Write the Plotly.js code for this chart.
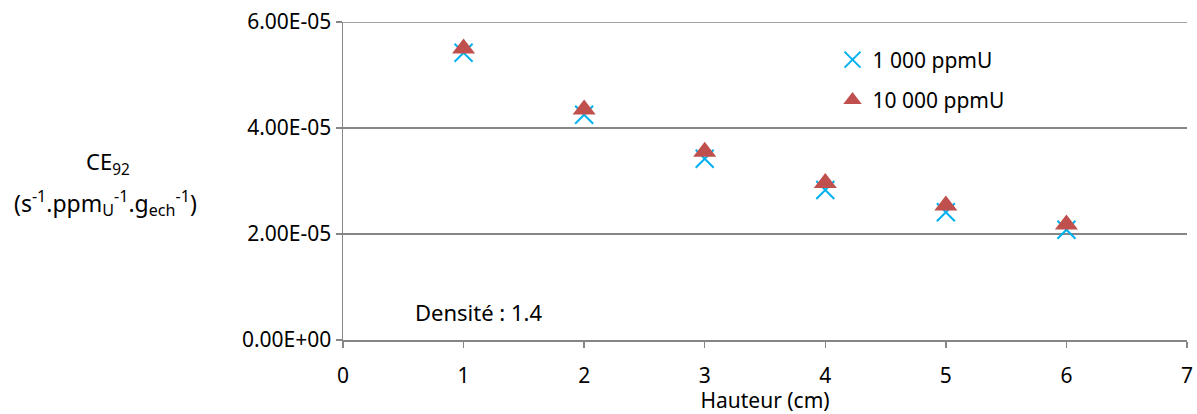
<!DOCTYPE html>
<html>
<head>
<meta charset="utf-8">
<script src="https://cdn.plot.ly/plotly-3.0.1.min.js"></script>
<style>html,body{margin:0;padding:0;background:#fff;}#chart{width:1197px;height:414px;}</style>
</head>
<body>
<div id="chart"></div>
<script>
const hauteur = [1, 2, 3, 4, 5, 6];
const ce1000 = [5.42e-5, 4.25e-5, 3.42e-5, 2.83e-5, 2.41e-5, 2.08e-5];
const ce10000 = [5.50e-5, 4.35e-5, 3.55e-5, 2.96e-5, 2.54e-5, 2.18e-5];
const seriesNames = ['1 000 ppmU', '10 000 ppmU'];
const yTickVals = [0, 2e-5, 4e-5, 6e-5];
const yTickText = ['0.00E+00', '2.00E-05', '4.00E-05', '6.00E-05'];
const xTickVals = [0, 1, 2, 3, 4, 5, 6, 7];

const FONT = 'Noto Sans, Open Sans, sans-serif';
const FS = 21;

const traces = [
  {
    x: hauteur, y: ce1000, name: seriesNames[0], type: 'scatter', mode: 'markers',
    legendgroup: 'a',
    marker: {symbol: 'x-thin-open', size: 18, color: '#00B0F0', line: {width: 2, color: '#00B0F0'}}
  },
  {
    x: hauteur, y: ce10000, name: seriesNames[1], type: 'scatter', mode: 'markers',
    legendgroup: 'b',
    marker: {symbol: 'triangle-up', size: 20, color: '#C0504D', line: {width: 0}}
  }
];

const yMax = yTickVals[yTickVals.length - 1];

const layout = {
  width: 1197, height: 414,
  margin: {l: 343, r: 10, t: 22, b: 74},
  paper_bgcolor: '#ffffff', plot_bgcolor: '#ffffff',
  font: {family: FONT, size: FS, color: '#000'},
  showlegend: true,
  legend: {
    x: 0.58, xanchor: 'left', y: 0.945, yanchor: 'top',
    traceorder: 'grouped', tracegroupgap: 10,
    font: {family: FONT, size: FS, color: '#000'},
    bgcolor: 'rgba(0,0,0,0)'
  },
  xaxis: {
    range: [0, 7], tickvals: xTickVals, ticks: 'outside', ticklen: 6, tickcolor: '#868686', tickwidth: 1.5,
    showline: true, linecolor: '#868686', linewidth: 1.5, showgrid: false, zeroline: false,
    ticklabelstandoff: 10,
    tickfont: {family: FONT, size: FS, color: '#000'},
    title: {text: 'Hauteur (cm)', font: {family: FONT, size: FS, color: '#000'}, standoff: 0}
  },
  yaxis: {
    range: [0, yMax], tickvals: yTickVals, ticktext: yTickText, ticks: 'outside', ticklen: 6,
    tickcolor: '#868686', tickwidth: 1.5,
    showline: true, linecolor: '#868686', linewidth: 1.5,
    showgrid: true, gridcolor: '#868686', gridwidth: 1.5, zeroline: false,
    tickfont: {family: FONT, size: FS, color: '#000'}
  },
  shapes: [
    {type: 'line', xref: 'paper', x0: 0, x1: 1, yref: 'y', y0: yMax, y1: yMax,
     line: {color: '#868686', width: 1.5}, layer: 'below'}
  ],
  annotations: [
    {
      xref: 'paper', yref: 'paper', x: -0.279, y: (340 - 163) / 318, xanchor: 'center', yanchor: 'middle',
      text: 'CE<sub>92</sub>',
      showarrow: false, align: 'center', font: {family: FONT, size: 22, color: '#000'}
    },
    {
      xref: 'paper', yref: 'paper', x: -0.281, y: (340 - 203) / 318, xanchor: 'center', yanchor: 'middle',
      text: '(s<sup>-1</sup>.ppm<sub>U</sub><sup>-1</sup>.g<sub>ech</sub><sup>-1</sup>)',
      showarrow: false, align: 'center', font: {family: FONT, size: 23, color: '#000'}
    },
    {
      xref: 'paper', yref: 'paper', x: 0.083, y: (340 - 312) / 318, xanchor: 'left', yanchor: 'middle',
      text: 'Densité : 1.4', showarrow: false, font: {family: FONT, size: 22, color: '#000'}
    }
  ]
};

Plotly.newPlot('chart', traces, layout, {displayModeBar: false, staticPlot: true});
</script>
</body>
</html>
